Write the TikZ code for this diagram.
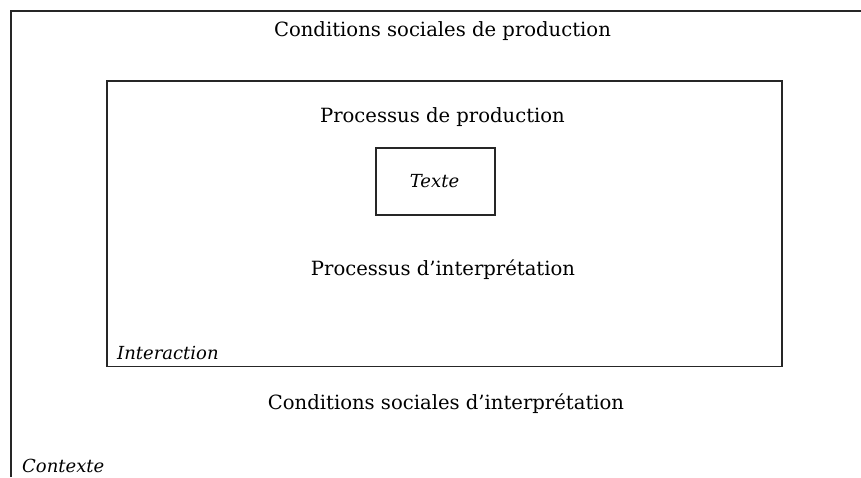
\documentclass[tikz,border=0pt]{standalone}
\usepackage{fontspec}
\setmainfont{DejaVu Serif}
\begin{document}
\begin{tikzpicture}[x=1pt,y=-1pt,
  frame/.style={draw=black!85,line width=1.5pt},
  lbl/.style={inner sep=0pt,anchor=base,font=\fontsize{19.6}{22}\selectfont},
  ilbl/.style={inner sep=0pt,anchor=base west,font=\fontsize{18}{22}\selectfont\itshape}]
\useasboundingbox (0,0) rectangle (861,477);
\coordinate (ob) at (11,477);
\coordinate (otl) at (11,11);
\coordinate (or) at (861,11);
\draw[frame] (ob) -- (otl) -- (or);
\node[frame,minimum width=675pt,minimum height=285.5pt,anchor=north west,inner sep=0pt] (inter) at (106,80) {};
\node[frame,minimum width=119pt,minimum height=67pt,anchor=north west,inner sep=0pt] (texte) at (375,147) {};
\node[lbl,font=\fontsize{18}{22}\selectfont\itshape] (tx) at (434.5,187) {Texte};
\node[lbl] (csp) at (442.5,36) {Conditions sociales de production};
\node[lbl] (pp) at (442.5,122) {Processus de production};
\node[lbl] (pi) at (443,275) {Processus d’interprétation};
\node[lbl] (csi) at (446,409) {Conditions sociales d’interprétation};
\node[ilbl] (ia) at (117,359) {Interaction};
\node[ilbl] (ctx) at (22,472) {Contexte};
\end{tikzpicture}
\end{document}
